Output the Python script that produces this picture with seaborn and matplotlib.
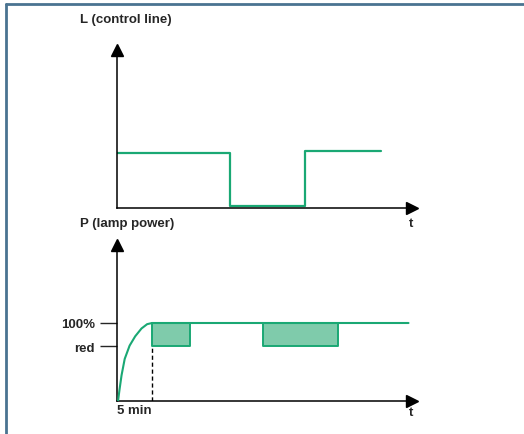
import matplotlib
matplotlib.use("Agg")
import matplotlib.pyplot as plt
import seaborn as sns
import pandas as pd
from matplotlib.lines import Line2D

sns.set_style("white")
plt.rcParams['font.family'] = ['Liberation Sans Narrow', 'Liberation Sans', 'DejaVu Sans']

# ---- data (time in minutes) ----
l_time = [0, 16.1, 26.9, 37.7]
l_value = [1.0, 0.03, 1.03, 1.03]

p_time = [0.15, 0.35, 0.65, 1.1, 1.8, 2.6, 3.5, 4.3, 5.0, 41.6]
p_value = [0, 14, 33, 54, 71, 83, 93, 98.5, 100, 100]

red_level = 70.5
reduced_start = [5.0, 20.9]
reduced_end = [10.4, 31.6]
warmup = 5.0

ytick_pos = [100, red_level]
ytick_labels = ["100%", "red"]

GREEN = "#1aa874"
FILL = "#7fcbab"

fig = plt.figure(figsize=(5.24, 4.35), dpi=100)

def make_axes(rect, ymax):
    ax = fig.add_axes(rect)
    ax.set_xlim(0, 42.1)
    ax.set_ylim(0, ymax)
    for s in ["top", "right"]:
        ax.spines[s].set_visible(False)
    for s in ["left", "bottom"]:
        ax.spines[s].set_color("black")
        ax.spines[s].set_linewidth(1.1)
    ax.plot(1, 0, ">", color="black", markersize=9, transform=ax.transAxes, clip_on=False)
    ax.plot(0, 1, "^", color="black", markersize=9, transform=ax.transAxes, clip_on=False)
    ax.set_xticks([])
    ax.set_xlabel("")
    ax.set_ylabel("")
    ax.patch.set_alpha(0)
    return ax

# top panel
ax1 = make_axes([117/524, 1-209/435, 295/524, 158/435], 2.87)
ax1.set_yticks([])
dfl = pd.DataFrame({"t": l_time, "L": l_value})
sns.lineplot(data=dfl, x="t", y="L", ax=ax1, color=GREEN, linewidth=1.6,
             drawstyle="steps-post", estimator=None)
ax1.set_xlabel(""); ax1.set_ylabel("")
ax1.text(41.9, -0.17, "t", ha="center", va="top", fontsize=9.5, fontweight="bold")

# bottom panel
ax2 = make_axes([117/524, 1-402/435, 295/524, 156/435], 200)
for s, e in zip(reduced_start, reduced_end):
    ax2.fill_between([s, e], [red_level, red_level], [100, 100],
                     facecolor=FILL, edgecolor=GREEN, linewidth=1.4, zorder=2)
dfp = pd.DataFrame({"t": p_time, "P": p_value})
sns.lineplot(data=dfp, x="t", y="P", ax=ax2, color=GREEN, linewidth=1.5,
             estimator=None, sort=False, zorder=3)
ax2.set_xlabel(""); ax2.set_ylabel("")
ax2.plot([warmup, warmup], [0, red_level], color="black", linestyle=(0, (3, 2)),
         linewidth=1.0, zorder=1)
ax2.set_yticks(ytick_pos)
ax2.set_yticklabels(ytick_labels, fontsize=9.5, fontweight="bold")
ax2.tick_params(axis="y", length=12, width=1.0, pad=4, left=True, direction="out")
ax2.text(0, -4, "5 min", ha="left", va="top", fontsize=9.5, fontweight="bold")
ax2.text(41.9, -6.5, "t", ha="center", va="top", fontsize=9.5, fontweight="bold")

fig.text(80/524, 1-20/435, "L (control line)", ha="left", va="center",
         fontsize=9.5, fontweight="bold")
fig.text(80/524, 1-224/435, "P (lamp power)", ha="left", va="center",
         fontsize=9.5, fontweight="bold")

# page frame (left and top)
frame_color = "#4a7391"
fig.add_artist(Line2D([5.5/524, 5.5/524], [0, 1-4.5/435], color=frame_color, linewidth=2.0,
                      transform=fig.transFigure))
fig.add_artist(Line2D([5.5/524, 1], [1-4.5/435, 1-4.5/435], color=frame_color, linewidth=2.0,
                      transform=fig.transFigure))

fig.savefig("out.png", dpi=100)
